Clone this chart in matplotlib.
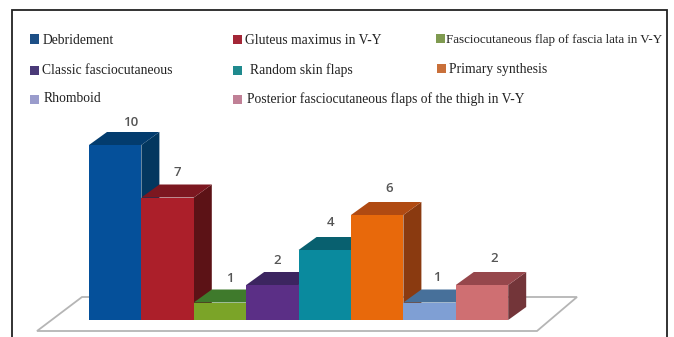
import matplotlib
matplotlib.use('Agg')
import matplotlib.pyplot as plt
from matplotlib.patches import Polygon, Rectangle

categories = ['Debridement', 'Gluteus maximus in V-Y', 'Fasciocutaneous flap of fascia lata in V-Y',
              'Classic fasciocutaneous', 'Random skin flaps', 'Primary synthesis',
              'Rhomboid', 'Posterior fasciocutaneous flaps of the thigh in V-Y']
values = [10, 7, 1, 2, 4, 6, 1, 2]

# front, top, side colours of each bar
front_colors = ['#05509a', '#ac1f2a', '#7ba428', '#5b2f86', '#0a8a9e', '#e8690b', '#7f9fd4', '#cf6f72']
top_colors = ['#033c6e', '#7c1720', '#3f7a2c', '#3c2560', '#08606f', '#b04a12', '#47709a', '#96474c']
side_colors = ['#03375f', '#5c1216', '#2f5a20', '#2c1b48', '#064c58', '#8a3a10', '#395a7c', '#733539']
legend_colors = ['#1d4f86', '#a32636', '#7f9a50', '#4a3a78', '#1f8a8e', '#c9703a', '#9a9ccc', '#c08096']

# pixel layout of the picture
W, H = 674, 337
x0, bar_w = 89, 52.4
y0, unit = 320, 17.5
dx, dy = 18 / bar_w, 13 / unit


def px(x):
    return (x - x0) / bar_w


def py(y):
    return (y0 - y) / unit


fig = plt.figure(figsize=(W / 100, H / 100), dpi=100)
ax = fig.add_axes([0, 0, 1, 1])
ax.set_xlim(px(0), px(W))
ax.set_ylim(py(H), py(0))
ax.axis('off')

# outer frame, the bottom edge is cut off by the picture
ax.add_patch(Rectangle((px(11.5), py(345)), 655.5 / bar_w, 335 / unit, fill=False, ec='#222222', lw=1.3))

# floor
floor = [(px(37), py(331)), (px(82), py(297)), (px(577), py(297)), (px(537), py(331))]
ax.add_patch(Polygon(floor, closed=True, fc='white', ec='#b5b5b5', lw=1.3, zorder=1))

# value labels are not centred the same way on every bar, offsets in pixels
label_dx = [6, 1, 1, -4, -3, 3, -2, 3]
label_up = [10, 12, 11, 12, 14, 13, 12, 13]

for i, v in enumerate(values):
    ax.add_patch(Polygon([(i + 1, 0), (i + 1 + dx, dy), (i + 1 + dx, v + dy), (i + 1, v)],
                         fc=side_colors[i], ec='none', zorder=2 + i))
    ax.add_patch(Polygon([(i, v), (i + dx, v + dy), (i + 1 + dx, v + dy), (i + 1, v)],
                         fc=top_colors[i], ec='none', zorder=2 + i))
    ax.add_patch(Rectangle((i, 0), 1, v, fc=front_colors[i], ec='none', zorder=2 + i))
    ax.text(i + 0.5 + dx / 2 + label_dx[i] / bar_w, v + dy + label_up[i] / unit, str(v),
            ha='center', va='center', fontsize=9.5, color='#555555', family='Open Sans',
            fontweight='semibold', zorder=20)

# legend drawn by hand, the entries sit on uneven columns
swatch_x = [30, 233, 436, 30, 233, 437, 30, 233]
swatch_y = [39, 39.5, 38.5, 70, 70, 68.5, 99, 99]
label_x = [43, 245, 446, 41.5, 250, 449, 44, 247]
label_y = [40, 40, 40, 70, 70, 70, 99, 99]
label_size = [9.85, 9.85, 9.35, 9.85, 9.85, 9.85, 9.85, 9.85]
for i, name in enumerate(categories):
    ax.add_patch(Rectangle((px(swatch_x[i]), py(swatch_y[i] + 4.5)), 9 / bar_w, 9 / unit,
                           fc=legend_colors[i], ec='none'))
    ax.text(px(label_x[i]), py(label_y[i]), name, ha='left', va='center', fontsize=label_size[i],
            family='Liberation Serif', color='#222222')

fig.savefig('out.png', dpi=100)
